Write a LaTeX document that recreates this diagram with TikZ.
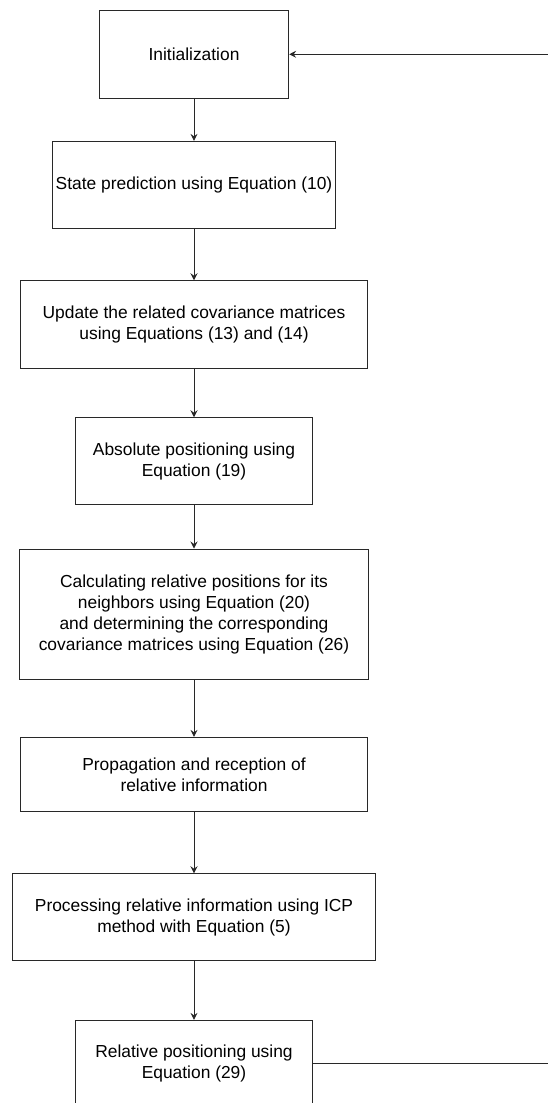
\documentclass[tikz,border=0pt]{standalone}
\usepackage{fontspec}
\setmainfont{Liberation Sans}
\usetikzlibrary{arrows.meta}
\definecolor{edge}{RGB}{40,40,40}
\begin{document}
\begin{tikzpicture}[x=1pt,y=1pt,
  stepbox/.style={draw=edge, line width=0.9pt, align=center, inner sep=0pt,
    font=\fontsize{17.4}{21}\selectfont, text=black},
  flow/.style={draw=edge, line width=0.9pt, -{Stealth[length=7pt,width=7pt,inset=2.5pt]}}]
\useasboundingbox (0,0) rectangle (548,-1103);
\node[stepbox, minimum width=189.4pt, minimum height=87.3pt] (b1) at (194,-54.3) {Initialization};
\node[stepbox, minimum width=283.5pt, minimum height=87.4pt] (b2) at (194,-185) {State prediction using Equation (10)};
\node[stepbox, minimum width=347.4pt, minimum height=87.6pt] (b3) at (194,-324.5) {Update the related covariance matrices\\using Equations (13) and (14)};
\node[stepbox, minimum width=237pt, minimum height=87pt] (b4) at (194,-461.2) {Absolute positioning using\\Equation (19)};
\node[stepbox, minimum width=348.4pt, minimum height=130.7pt] (b5) at (194,-614.3) {Calculating relative positions for its\\neighbors using Equation (20)\\and determining the corresponding\\covariance matrices using Equation (26)};
\node[stepbox, minimum width=347.4pt, minimum height=74.4pt] (b6) at (194,-774.5) {Propagation and reception of\\relative information};
\node[stepbox, minimum width=363.5pt, minimum height=87pt] (b7) at (194,-917.2) {Processing relative information using ICP\\method with Equation (5)};
\node[stepbox, minimum width=237pt, minimum height=87pt] (b8) at (194,-1063.8) {Relative positioning using\\Equation (29)};
\draw[flow] (b1.south) -- (b2.north);
\draw[flow] (b2.south) -- (b3.north);
\draw[flow] (b3.south) -- (b4.north);
\draw[flow] (b4.south) -- (b5.north);
\draw[flow] (b5.south) -- (b6.north);
\draw[flow] (b6.south) -- (b7.north);
\draw[flow] (b7.south) -- (b8.north);
\coordinate (r1) at (548,-1063.8);
\coordinate (r2) at (548,-54.3);
\draw[draw=edge, line width=0.9pt] (b8.east) -- (r1);
\draw[flow] (r2) -- (b1.east);
\end{tikzpicture}
\end{document}
